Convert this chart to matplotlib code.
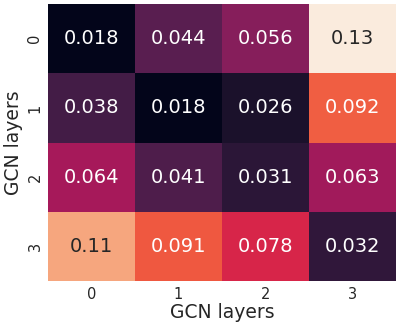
import numpy as np
import seaborn as sns
from matplotlib import pyplot as plt

# values
rows = [0, 1, 2, 3]
cols = [0, 1, 2, 3]
row_0 = [0.018, 0.044, 0.056, 0.13]
row_1 = [0.038, 0.018, 0.026, 0.092]
row_2 = [0.064, 0.041, 0.031, 0.063]
row_3 = [0.11, 0.091, 0.078, 0.032]

data = np.array([row_0, row_1, row_2, row_3])

sns.set_theme(style="dark")
plt.rcParams["font.family"] = ["DejaVu Sans"]

fig = plt.figure(figsize=(4.0, 3.28), dpi=100)
ax = fig.add_axes([0.12, 0.142, 0.87, 0.846])
sns.heatmap(data, ax=ax, cmap="rocket", annot=True, fmt=".2g", cbar=False,
            annot_kws={"size": 14}, xticklabels=cols, yticklabels=rows)
ax.set_xlabel("GCN layers", fontsize=13.5, labelpad=1)
ax.set_ylabel("GCN layers", fontsize=13.5, labelpad=3)
ax.tick_params(labelsize=10.5, length=0, pad=4)
plt.setp(ax.get_yticklabels(), rotation=90, va="center")
fig.savefig("out.png", dpi=100)
